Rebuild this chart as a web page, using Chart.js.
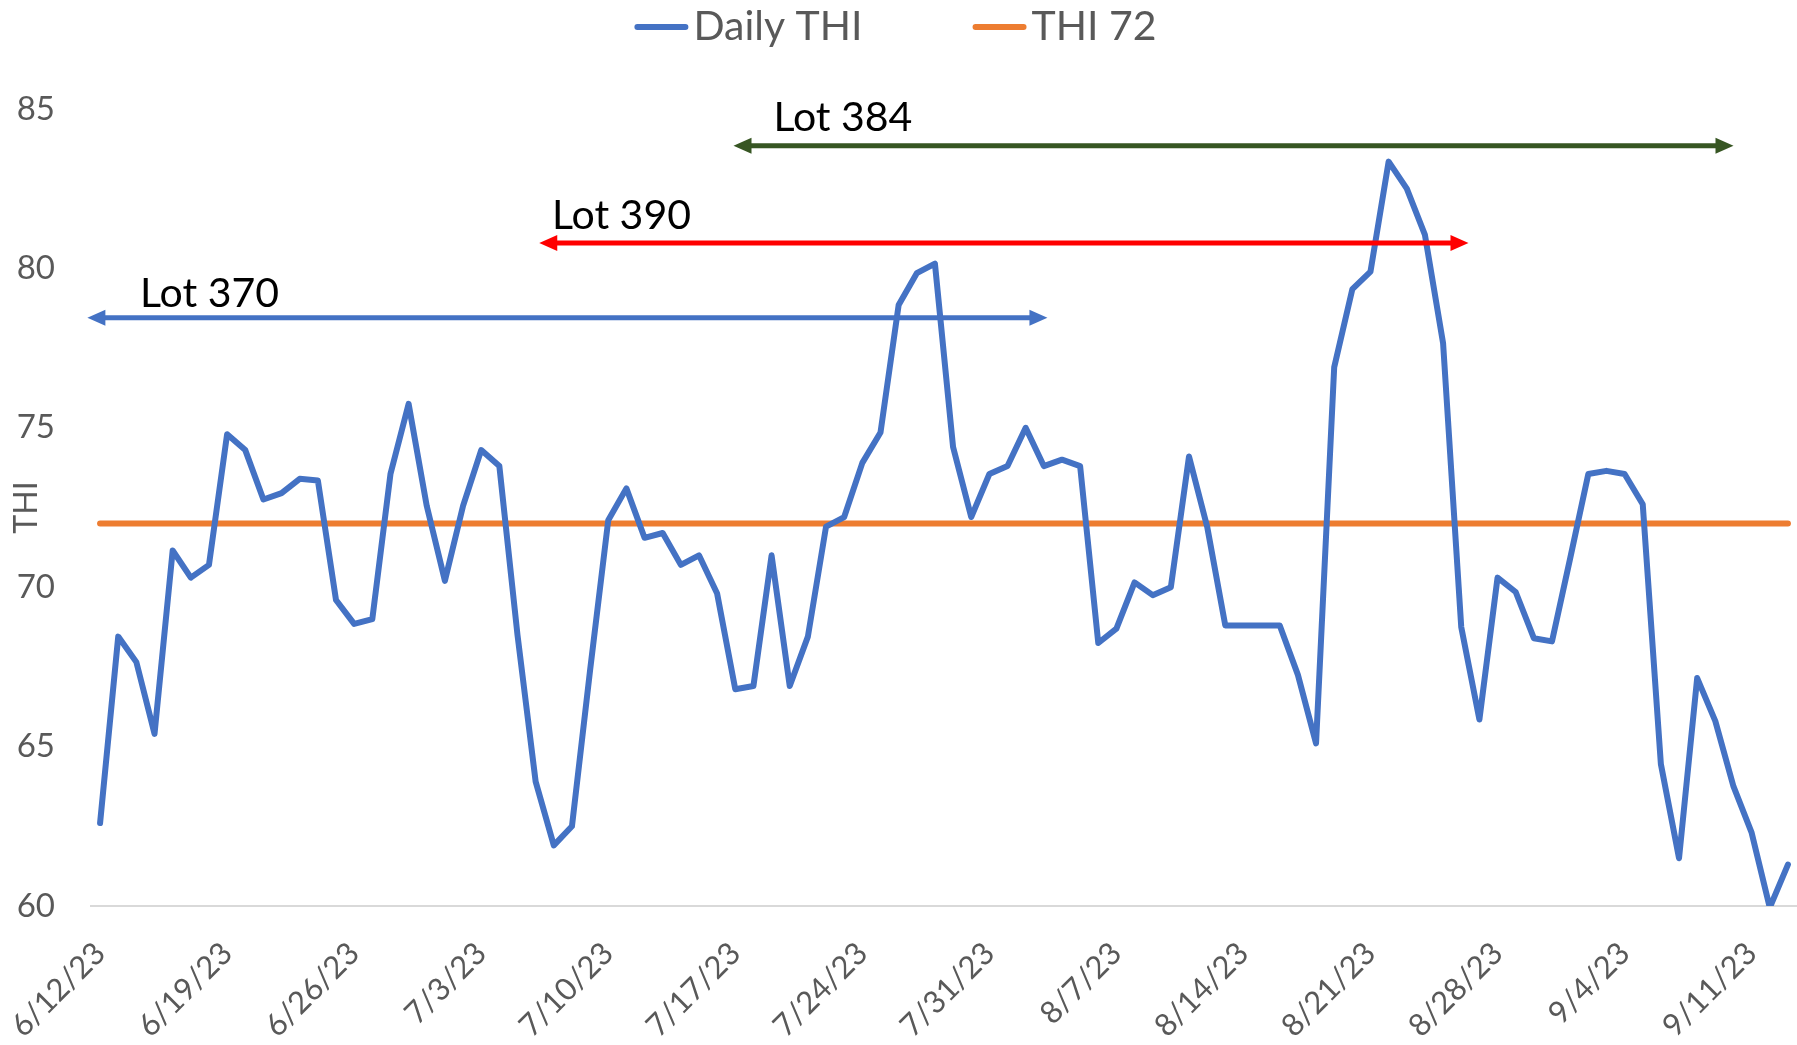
<!DOCTYPE html>
<html>
<head>
<meta charset="utf-8">
<script src="https://cdn.jsdelivr.net/npm/chart.js@4.4.1/dist/chart.umd.min.js"></script>
<style>
  html, body { margin: 0; padding: 0; background: #fff; }
  #wrap { width: 1797px; height: 1045px; }
</style>
</head>
<body>
<div id="wrap"><canvas id="thiChart" width="1797" height="1045"></canvas></div>
<script>
// daily THI, one value per day starting 6/12/23
const dailyTHI = [
  62.6, 68.45, 67.65, 65.4, 71.15, 70.3, 70.7,
  74.8, 74.3, 72.75, 72.95, 73.4, 73.35, 69.6,
  68.85, 69.0, 73.55, 75.75, 72.55, 70.2, 72.55,
  74.3, 73.8, 68.5, 63.9, 61.9, 62.5, 67.4,
  72.1, 73.1, 71.55, 71.7, 70.7, 71.0, 69.8,
  66.8, 66.9, 71.0, 66.9, 68.45, 71.9, 72.2,
  73.9, 74.85, 78.85, 79.85, 80.15, 74.4, 72.2,
  73.55, 73.8, 75.0, 73.8, 74.0, 73.8, 68.25,
  68.7, 70.15, 69.75, 70.0, 74.1, 71.9, 68.8,
  68.8, 68.8, 68.8, 67.25, 65.1, 76.9, 79.35,
  79.9, 83.35, 82.5, 81.05, 77.65, 68.75, 65.85,
  70.3, 69.85, 68.4, 68.3, 70.9, 73.55, 73.65,
  73.55, 72.6, 64.45, 61.5, 67.15, 65.8, 63.75,
  62.3, 59.95, 61.3
];
const threshold = 72;
const tickLabels = ["6/12/23", "6/19/23", "6/26/23", "7/3/23", "7/10/23", "7/17/23", "7/24/23",
  "7/31/23", "8/7/23", "8/14/23", "8/21/23", "8/28/23", "9/4/23", "9/11/23"];

// lot periods, in days from 6/12/23
const lotNames = ["Lot 370", "Lot 390", "Lot 384"];
const lotStart = [-0.7, 24.2, 34.9];
const lotEnd = [52.2, 75.4, 90.0];
const lotLevel = [78.45, 80.8, 83.85];
const lotLabelAt = [2.2, 24.9, 37.1];
const lotLabelLevel = [78.8, 81.25, 84.3];

const labels = dailyTHI.map((_, i) => {
  const d = new Date(2023, 5, 12 + i);
  return `${d.getMonth() + 1}/${d.getDate()}/${String(d.getFullYear()).slice(2)}`;
});
const thiLine = dailyTHI.map(() => threshold);

const lotColors = ["#4472C4", "#FF0000", "#375623"];
const textGray = "#595959";
Chart.defaults.font.family = "Lato, 'Open Sans', sans-serif";

// legend drawn like the Excel one: short line, text right next to it
const topLegend = {
  id: "topLegend",
  afterDraw(chart) {
    const ctx = chart.ctx;
    const items = chart.data.datasets;
    ctx.save();
    ctx.font = "41px Lato";
    ctx.textBaseline = "alphabetic";
    const gap = 110;
    const widths = items.map((ds) => 59 + ctx.measureText(ds.label).width);
    const total = widths.reduce((a, b) => a + b, 0) + gap * (items.length - 1);
    let x = chart.width / 2 - 3 - total / 2;
    const y = 27;
    items.forEach((ds, i) => {
      ctx.strokeStyle = ds.borderColor;
      ctx.lineWidth = 6;
      ctx.lineCap = "round";
      ctx.beginPath();
      ctx.moveTo(x + 3, y);
      ctx.lineTo(x + 51, y);
      ctx.stroke();
      ctx.fillStyle = textGray;
      ctx.fillText(ds.label, x + 59, y + 13);
      x += widths[i] + gap;
    });
    ctx.restore();
  },
};

// double headed arrows for each lot
const lotArrows = {
  id: "lotArrows",
  afterDraw(chart) {
    const { ctx, scales: { x, y } } = chart;
    ctx.save();
    lotNames.forEach((name, i) => {
      const yy = y.getPixelForValue(lotLevel[i]);
      const x1 = x.getPixelForValue(lotStart[i]);
      const x2 = x.getPixelForValue(lotEnd[i]);
      const head = 18, half = 8;
      ctx.strokeStyle = lotColors[i];
      ctx.fillStyle = lotColors[i];
      ctx.lineWidth = 5;
      ctx.beginPath();
      ctx.moveTo(x1 + head - 2, yy);
      ctx.lineTo(x2 - head + 2, yy);
      ctx.stroke();
      ctx.beginPath();
      ctx.moveTo(x1, yy);
      ctx.lineTo(x1 + head, yy - half);
      ctx.lineTo(x1 + head, yy + half);
      ctx.closePath();
      ctx.fill();
      ctx.beginPath();
      ctx.moveTo(x2, yy);
      ctx.lineTo(x2 - head, yy - half);
      ctx.lineTo(x2 - head, yy + half);
      ctx.closePath();
      ctx.fill();

      ctx.fillStyle = "#000";
      ctx.font = "41px Lato";
      ctx.textAlign = "left";
      ctx.textBaseline = "alphabetic";
      ctx.fillText(name, x.getPixelForValue(lotLabelAt[i]), y.getPixelForValue(lotLabelLevel[i]));
    });
    ctx.restore();
  },
};

new Chart(document.getElementById("thiChart"), {
  type: "line",
  data: {
    labels,
    datasets: [
      {
        label: "Daily THI",
        data: dailyTHI,
        borderColor: "#4472C4",
        backgroundColor: "#4472C4",
        borderWidth: 6,
        pointRadius: 0,
        tension: 0,
        borderCapStyle: "round",
        borderJoinStyle: "round",
      },
      {
        label: "THI 72",
        data: thiLine,
        borderColor: "#ED7D31",
        backgroundColor: "#ED7D31",
        borderWidth: 6,
        pointRadius: 0,
        borderCapStyle: "round",
      },
    ],
  },
  options: {
    responsive: false,
    animation: false,
    layout: { padding: { top: 109, left: 0, right: 0, bottom: 0 } },
    plugins: {
      legend: { display: false },
      tooltip: { enabled: false },
    },
    scales: {
      x: {
        offset: true,
        grid: { display: false, drawTicks: false },
        border: { display: true, color: "#d9d9d9", width: 2 },
        ticks: {
          autoSkip: false,
          maxRotation: 45,
          minRotation: 45,
          padding: 29,
          color: textGray,
          font: { size: 31 },
          callback: (val, idx) => (tickLabels.includes(labels[idx]) ? labels[idx] : ""),
        },
        afterFit: (scale) => {
          scale.height = 139;
          scale.paddingLeft = 0;
          scale.paddingRight = 0;
        },
      },
      y: {
        min: 60,
        max: 85,
        grid: { display: false, drawTicks: false },
        border: { display: false },
        ticks: { stepSize: 5, padding: 36, color: textGray, font: { size: 33 } },
        title: { display: true, text: "THI", color: textGray, font: { size: 32 }, padding: { top: 7, bottom: 4 } },
        afterFit: (scale) => { scale.width = 91; },
      },
    },
  },
  plugins: [lotArrows, topLegend],
});
</script>
</body>
</html>
